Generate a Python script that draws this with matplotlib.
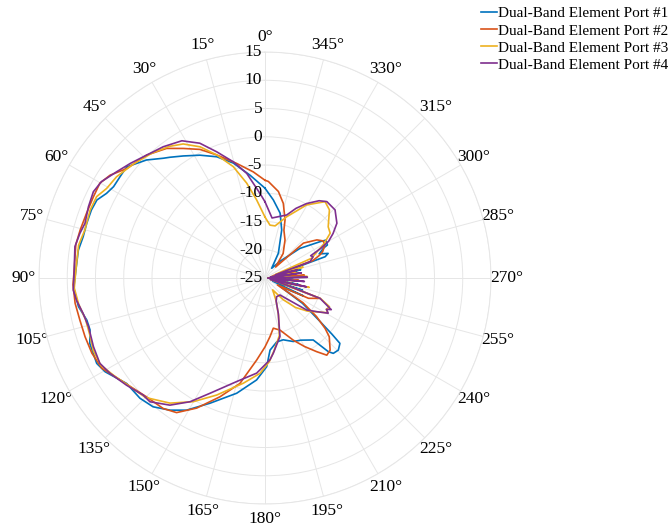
import numpy as np
import matplotlib
matplotlib.use("Agg")
import matplotlib.pyplot as plt
import matplotlib.transforms as mtransforms

plt.rcParams['font.family'] = ['Liberation Serif', 'DejaVu Serif']

# measured gain (dB) versus azimuth (deg) for each port
th1 = [0, 8.3, 15.4, 21.7, 27.9, 33.8, 38.2, 40.3, 45.1, 51.2, 55.1, 58.9, 61.9, 65.1, 68.6,
       73, 77.2, 81.5, 87.6, 93, 98.7, 103.3, 106.5, 110.5, 116.9, 120.4, 127.3, 133.9, 139,
       144.3, 149.3, 156.3, 166.2, 175.3, 181.1, 184, 190.4, 196.4, 204, 210, 217.9, 220.7,
       222.2, 225.5, 228.9, 230, 232, 236, 241, 245, 248, 252, 255, 259, 263, 267, 271, 275,
       279, 283, 287, 289.5, 291.3, 294, 297, 297.9, 301.9, 303.4, 310.3, 318, 325.4, 331.7,
       340.8, 346.9, 353.9]
db1 = [-9.1, -6.6, -3.9, -1.9, -0.4, 1.0, 2.2, 2.8, 4.6, 6.4, 6.3, 6.3, 6.8, 7.8, 8.0,
       8.0, 8.0, 8.4, 8.5, 8.9, 8.4, 7.4, 7.3, 8.1, 8.4, 7.8, 5.8, 5.7, 5.2,
       3.8, 2.2, -0.8, -4.0, -6.9, -9.3, -12.2, -13.5, -13.6, -12.7, -12.3, -11.1, -7.8,
       -7.0, -6.8, -7.4, -9.5, -13.0, -17, -22, -17.5, -23.5, -18, -24, -19, -24, -20, -24.5, -19.5,
       -24, -18.5, -22, -13.7, -13.0, -14.5, -13.4, -12.5, -12.3, -13.3, -16.9, -21, -22.9, -20.0,
       -16.0, -13.2, -11.1]

th2 = [0, 6.3, 13.9, 21.4, 26.8, 32.2, 37.2, 43.9, 51.6, 56.4, 60.1, 64.7, 70.1, 75.5, 80,
       87.6, 92, 97.6, 102.8, 108.1, 113.5, 118.9, 127.3, 135.1, 142, 146.7, 152.3, 159.2,
       166.6, 174.2, 180, 184.9, 189.4, 196.1, 204.5, 210, 215, 218.7, 222.1, 227.6, 230,
       233.2, 237, 241, 245, 249.7, 253, 258, 262, 266, 270, 274, 278, 282, 286, 290, 292.7,
       294.5, 298.8, 302.6, 306.3, 312.2, 316, 323.5, 332.2, 338.4, 341, 346.2, 351.2, 358]
db2 = [-7.7, -6.1, -4.1, -1.6, 0.5, 2.1, 3.8, 5.2, 6.2, 7.9, 8.7, 8.6, 8.6, 8.8, 9.0,
       8.8, 9.0, 8.9, 8.6, 8.5, 8.4, 8.0, 5.9, 4.7, 4.3, 3.5, 1.0, -2.5,
       -5.8, -10.4, -12.8, -14.6, -16.0, -15.4, -12.9, -11.0, -9.1, -7.5, -7.8, -9.6, -11.1,
       -13.6, -17, -22.5, -16.5, -14.6, -23, -18, -24, -19, -24.5, -18, -24, -19.5, -23.5, -16, -14.5,
       -13.8, -12.9, -12.8, -13.6, -15.8, -22.3, -19.6, -17.4, -15.9, -14.1, -11.4, -9.5, -7.9]

th3 = [0, 6.1, 10.9, 15.9, 21.4, 26.3, 31.4, 36, 42, 49, 55.7, 60.5, 64.2, 68.8, 75.1,
       80, 87.6, 93, 98, 103, 108, 113, 118, 123, 128, 135, 142.8, 149.9, 157.6, 168.4,
       177, 183, 187, 194, 200, 206, 213, 220, 226, 232, 237, 241, 243, 246, 249.7,
       252, 255, 258, 261, 265, 268, 272, 275, 279, 282, 286, 289, 293, 296, 300,
       304.5, 309, 316.6, 321.8, 330.3, 340.5, 349, 354.6]
db3 = [-14.2, -11.1, -7.9, -4.5, -1.6, 0.9, 2.8, 3.8, 4.8, 5.8, 6.8, 7.2, 8.1, 8.2, 8.0,
       8.5, 8.5, 8.8, 8.3, 7.6, 7.6, 8.0, 7.9, 6.8, 5.8, 4.9, 2.8, 0.3, -2.6, -6.0,
       -8.1, -10.2, -12.0, -14.5, -18.0, -20.5, -22.5, -20.0, -17.5, -15.5, -14.0, -12.3, -12.8, -12.5, -14.5,
       -21, -24, -17, -24, -18.5, -24, -17.5, -24, -19, -24, -18, -23, -16, -15, -13,
       -11.0, -10.6, -8.4, -7.8, -10.1, -13.5, -15.6, -15.6]

th4 = [0, 3.4, 9.9, 15.2, 20.9, 25.8, 31.2, 37.8, 43.9, 49.6, 54.4, 59.5, 63.3, 68, 73.1,
       76.4, 80.6, 87.6, 93.6, 96.7, 101, 105.4, 111.8, 117.3, 121.6, 127.7, 133.9, 137.1,
       143.2, 148.8, 154.5, 164.7, 175, 183.5, 186.3, 194.3, 200.6, 206, 212, 221.4, 232.5,
       236.9, 240.9, 243, 244.5, 246, 249.7, 252, 255, 258, 261, 265, 268, 271, 274, 278,
       281, 284, 287, 290, 293.8, 296, 298, 300, 303.2, 307.3, 314.2, 321, 325, 330.8, 336,
       341, 353.3, 355.6]
db4 = [-11.5, -10.0, -6.2, -3.7, -1.1, 1.5, 3.4, 4.4, 5.2, 6.3, 7.3, 8.6, 9.0, 8.7, 8.3,
       8.7, 9.1, 8.8, 9.0, 8.6, 7.8, 7.4, 7.7, 7.9, 7.2, 6.0, 4.9, 4.9,
       3.1, 0.6, -2.4, -6.0, -8.1, -10.5, -11.6, -14.3, -18.3, -20.5, -21.1, -21.0, -15.7,
       -14.1, -12.2, -12.8, -12.0, -12.9, -14.6, -21, -24, -17.5, -24, -18, -24.5, -17.5, -24, -18.5,
       -24, -19, -23, -16.5, -15.7, -16, -13.8, -12, -10.6, -9.0, -7.7, -7.6, -8.3, -9.9, -11.5,
       -13.2, -14.3, -13.5]

labels = ['Dual-Band Element Port #1', 'Dual-Band Element Port #2',
          'Dual-Band Element Port #3', 'Dual-Band Element Port #4']
colors = ['#0072BD', '#D95319', '#EDB120', '#7E2F8E']
rticks = [-25, -20, -15, -10, -5, 0, 5, 10, 15]

fig = plt.figure(figsize=(6.70, 5.27), dpi=100)
ax = fig.add_axes([0.0582, 0.0436, 0.6746, 0.8577], projection='polar')
ax.set_theta_zero_location('N')
ax.set_theta_direction(1)

for th, db, c, lab in zip([th1, th2, th3, th4], [db1, db2, db3, db4], colors, labels):
    t = np.deg2rad(np.append(th, 360 + th[0]))
    r = np.append(db, db[0])
    ax.plot(t, r, color=c, lw=1.2, label=lab)

ax.set_ylim(-25, 15)
ax.set_yticks(rticks)
ax.set_yticklabels([])
ax.set_thetagrids(np.arange(0, 360, 15), ['%d°' % a for a in range(0, 360, 15)],
                  fontsize=12.5)
ax.tick_params(axis='x', pad=0.5)
ax.grid(color='#e6e6e6', lw=0.7)
ax.spines['polar'].set_color('#e6e6e6')
ax.spines['polar'].set_linewidth(0.7)

# radial labels sit just left of the 0° spoke
off = mtransforms.offset_copy(ax.transData, fig=fig, x=-2, y=0, units='points')
for v in rticks:
    ax.text(0, v, str(v), transform=off, ha='right', va='center', fontsize=12.5)

fig.legend(loc='upper right', bbox_to_anchor=(1.0, 0.99), frameon=False, fontsize=11,
           handlelength=1.0, handletextpad=0.1, labelspacing=0.22, borderpad=0.1,
           borderaxespad=0)

fig.savefig('out.png', dpi=100)
